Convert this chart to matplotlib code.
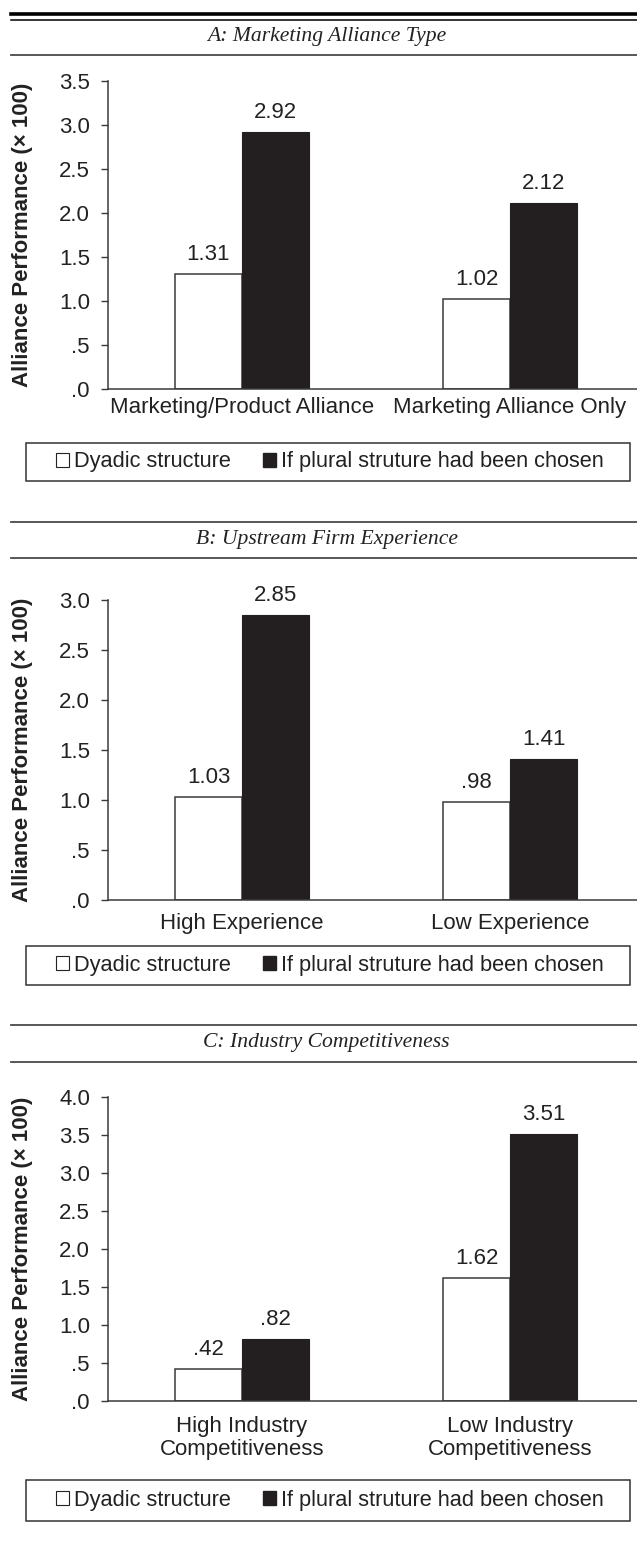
import numpy as np
import matplotlib.pyplot as plt
from matplotlib.lines import Line2D
from matplotlib.patches import Patch, Rectangle

plt.rcParams['font.family'] = ['Liberation Sans', 'DejaVu Sans']

# Data for the three panels
titles = ["A: Marketing Alliance Type", "B: Upstream Firm Experience", "C: Industry Competitiveness"]
cats_a = ["Marketing/Product Alliance", "Marketing Alliance Only"]
cats_b = ["High Experience", "Low Experience"]
cats_c = ["High Industry\nCompetitiveness", "Low Industry\nCompetitiveness"]
dyadic_a = [1.31, 1.02]
plural_a = [2.92, 2.12]
dyadic_b = [1.03, 0.98]
plural_b = [2.85, 1.41]
dyadic_c = [0.42, 1.62]
plural_c = [0.82, 3.51]
ymax = [3.5, 3.0, 4.0]
legend_labels = ["Dyadic structure", "If plural struture had been chosen"]

W, H = 637, 1548
fig = plt.figure(figsize=(W / 100, H / 100), dpi=100)

BLACK = '#231f20'
EDGE = '#3a3a3a'
TXT = '#222222'
FS = 16


def fx(px):
    return px / W


def fy(py):
    return 1 - py / H


def hrule(py, lw=1.3, color='#4a4a4a', x0=11):
    fig.add_artist(Line2D([fx(x0), 1], [fy(py), fy(py)], transform=fig.transFigure,
                          color=color, lw=lw))


def trim(v, nd):
    s = f"{v:.{nd}f}"
    return s[1:] if s.startswith("0") else s


# pixel layout: rule above, title y, rule below, axis top, axis bottom, x label pad, legend top, legend bottom
layout = [
    (None, 37, 55, 81.5, 389, 6, 443, 481),
    (522, 540, 558, 600, 900, 9, 946, 985),
    (1025, 1043, 1062, 1097, 1401, 11, 1480, 1521),
]
panels = [(cats_a, dyadic_a, plural_a), (cats_b, dyadic_b, plural_b), (cats_c, dyadic_c, plural_c)]

# double rule at the very top
hrule(14, lw=2.6, color='black')
hrule(19.5, lw=1.1, color='black')

left_px = 108
cat_px = 268
first_px = 242
bw = 67 / cat_px

for i, ((cats, dy, pl), lay) in enumerate(zip(panels, layout)):
    r_above, t_y, r_below, top, bot, xpad, lg_top, lg_bot = lay
    if r_above is not None:
        hrule(r_above)
    hrule(r_below)
    fig.text(0.5 + fx(8), fy(t_y), titles[i], ha='center', va='center',
             family='Liberation Serif', style='italic', fontsize=15.6, color=TXT)

    ax = fig.add_axes([fx(left_px), fy(bot), 1 - fx(left_px), (bot - top) / H])
    x = np.arange(len(cats))
    b1 = ax.bar(x - bw / 2, dy, bw, color='white', edgecolor=EDGE, linewidth=1.1)
    b2 = ax.bar(x + bw / 2, pl, bw, color=BLACK, edgecolor=BLACK, linewidth=0.8)
    ax.bar_label(b1, labels=[trim(v, 2) for v in dy], padding=6.5, fontsize=FS, color=TXT)
    ax.bar_label(b2, labels=[trim(v, 2) for v in pl], padding=6.5, fontsize=FS, color=TXT)

    lo = -(first_px - left_px) / cat_px
    ax.set_xlim(lo, lo + (W - left_px) / cat_px)
    ax.set_ylim(0, ymax[i])
    ticks = np.arange(0, ymax[i] + 0.01, 0.5)
    ax.set_yticks(ticks)
    ax.set_yticklabels([trim(t, 1) for t in ticks])
    ax.set_xticks(x)
    ax.set_xticklabels(cats, linespacing=1.1)
    ax.tick_params(axis='y', length=5, width=1, color=EDGE, pad=8, labelsize=FS, labelcolor=TXT)
    ax.tick_params(axis='x', length=0, pad=xpad, labelsize=FS, labelcolor=TXT)
    for s in ['top', 'right']:
        ax.spines[s].set_visible(False)
    for s in ['left', 'bottom']:
        ax.spines[s].set_color(EDGE)
        ax.spines[s].set_linewidth(1.1)
    ax.patch.set_alpha(0)
    ax.set_ylabel("Alliance Performance (× 100)", fontsize=FS, fontweight='bold', color=TXT)
    ax.yaxis.set_label_coords(-(left_px - 33) / (W - left_px), 0.5)

    # legend with its own frame
    fig.add_artist(Rectangle((fx(26), fy(lg_bot)), fx(630) - fx(26), (lg_bot - lg_top) / H,
                             transform=fig.transFigure, fill=False, edgecolor='#333333', lw=1.1))
    handles = [Patch(facecolor='white', edgecolor=TXT, linewidth=0.8),
               Patch(facecolor=BLACK, edgecolor=BLACK)]
    fig.legend(handles, legend_labels, loc='center', ncol=2, frameon=False,
               bbox_to_anchor=(fx(330), fy((lg_top + lg_bot) / 2)),
               handlelength=0.6, handleheight=0.6, handletextpad=0.2,
               columnspacing=1.5, fontsize=15.7, labelcolor=TXT,
               borderpad=0, borderaxespad=0)

fig.savefig("out.png", dpi=100)
